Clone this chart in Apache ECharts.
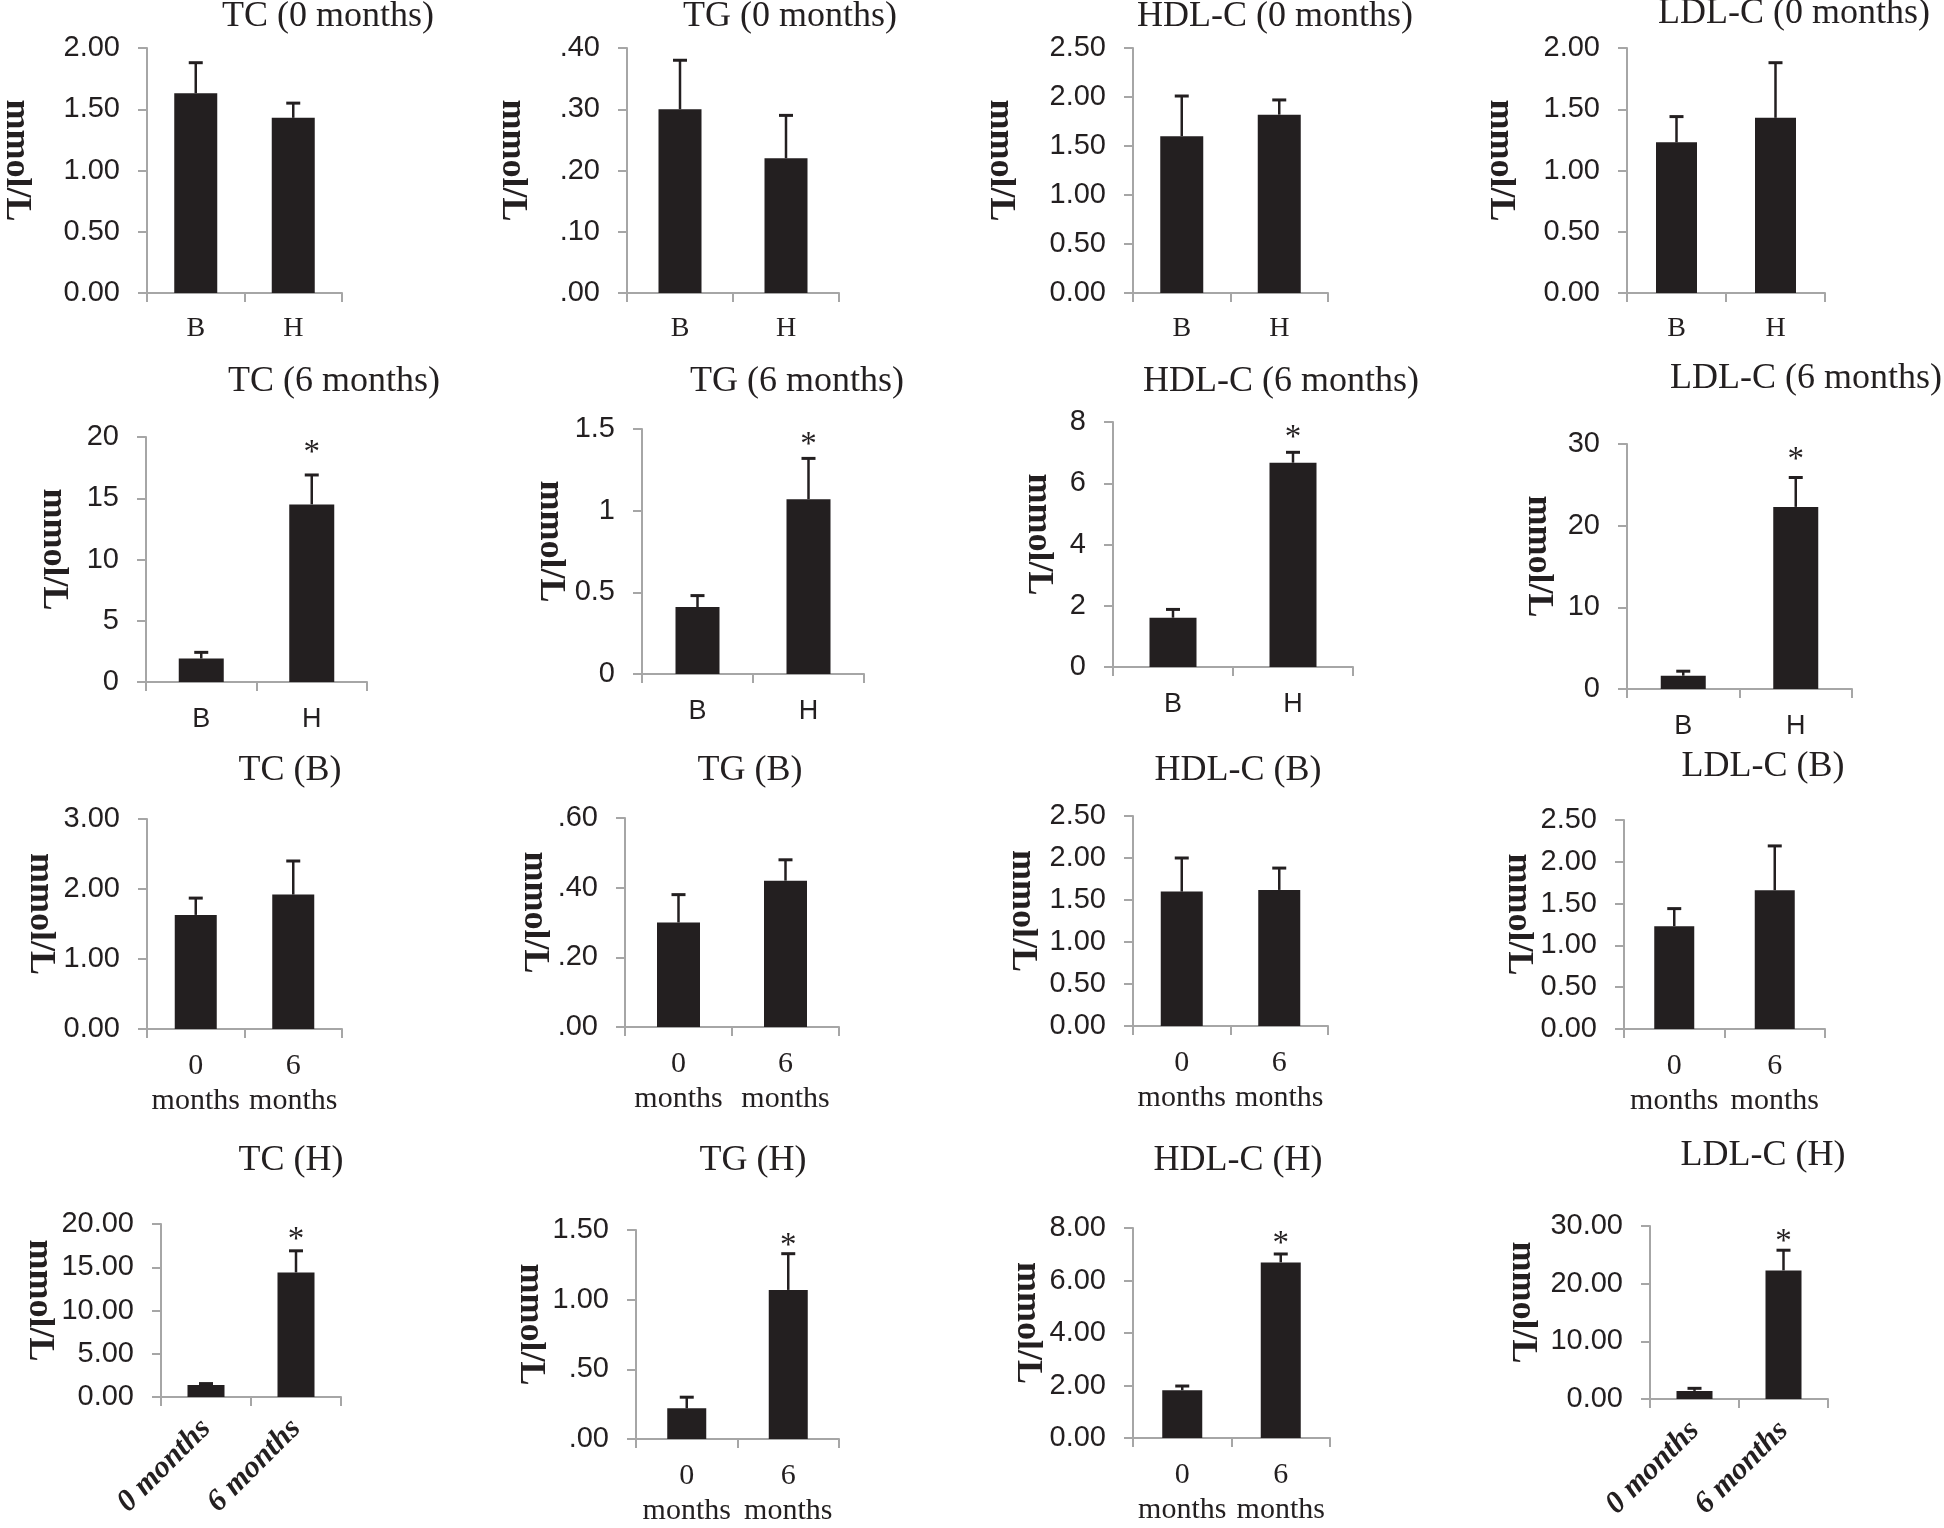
<!DOCTYPE html>
<html lang="en">
<head>
<meta charset="UTF-8">
<title>Serum lipids</title>
<style>
  html, body { margin: 0; background: #fff; }
  #main { width: 1944px; height: 1528px; }
</style>
</head>
<body>
<div id="main"></div>
<script src="https://cdn.jsdelivr.net/npm/echarts@6/dist/echarts.min.js"></script>
<script>
  // categories
  const groups = ['B', 'H']
  const months = ['0\nmonths', '6\nmonths']
  const monthsFlat = ['0 months', '6 months']

  // mean and mean + SD (top of the error bar), mmol/L
  const tc0Mean = [1.63, 1.43], tc0Top = [1.88, 1.55]
  const tg0Mean = [0.30, 0.22], tg0Top = [0.38, 0.29]
  const hdl0Mean = [1.60, 1.82], hdl0Top = [2.01, 1.97]
  const ldl0Mean = [1.23, 1.43], ldl0Top = [1.44, 1.88]

  const tc6Mean = [1.92, 14.5], tc6Top = [2.42, 16.9]
  const tg6Mean = [0.41, 1.07], tg6Top = [0.48, 1.32]
  const hdl6Mean = [1.61, 6.67], hdl6Top = [1.88, 7.01]
  const ldl6Mean = [1.63, 22.3], ldl6Top = [2.18, 25.9]

  const tcBMean = [1.63, 1.92], tcBTop = [1.87, 2.40]
  const tgBMean = [0.30, 0.42], tgBTop = [0.38, 0.48]
  const hdlBMean = [1.60, 1.62], hdlBTop = [2.00, 1.88]
  const ldlBMean = [1.23, 1.66], ldlBTop = [1.44, 2.19]

  const tcHMean = [1.40, 14.4], tcHTop = [1.55, 16.9]
  const tgHMean = [0.22, 1.07], tgHTop = [0.30, 1.33]
  const hdlHMean = [1.82, 6.69], hdlHTop = [1.98, 7.01]
  const ldlHMean = [1.40, 22.3], ldlHTop = [1.85, 25.8]

  // significance marks (*)
  const sigNone = [false, false]
  const sigSecond = [false, true]

  const titles = [
    'TC (0 months)', 'TG (0 months)', 'HDL-C (0 months)', 'LDL-C (0 months)',
    'TC (6 months)', 'TG (6 months)', 'HDL-C (6 months)', 'LDL-C (6 months)',
    'TC (B)', 'TG (B)', 'HDL-C (B)', 'LDL-C (B)',
    'TC (H)', 'TG (H)', 'HDL-C (H)', 'LDL-C (H)'
  ]
  const axisMax = [2, 0.4, 2.5, 2, 20, 1.5, 8, 30, 3, 0.6, 2.5, 2.5, 20, 1.5, 8, 30]
  const axisStep = [0.5, 0.1, 0.5, 0.5, 5, 0.5, 2, 10, 1, 0.2, 0.5, 0.5, 5, 0.5, 2, 10]

  const means = [tc0Mean, tg0Mean, hdl0Mean, ldl0Mean, tc6Mean, tg6Mean, hdl6Mean, ldl6Mean,
    tcBMean, tgBMean, hdlBMean, ldlBMean, tcHMean, tgHMean, hdlHMean, ldlHMean]
  const tops = [tc0Top, tg0Top, hdl0Top, ldl0Top, tc6Top, tg6Top, hdl6Top, ldl6Top,
    tcBTop, tgBTop, hdlBTop, ldlBTop, tcHTop, tgHTop, hdlHTop, ldlHTop]

  const ink = '#231f20'
  const axisGrey = '#a6a6a6'
  const serif = '"Liberation Serif", "Times New Roman", serif'
  const sans = '"Liberation Sans", Arial, sans-serif'

  const fix2 = v => v.toFixed(2)
  const dot2 = v => v.toFixed(2).replace(/^0\./, '.')
  const plain = v => String(+v.toFixed(2))

  // layout: [axis x, axis end x, top tick y, zero y, name gap, bar width]
  const layout = [
    [147, 342, 48, 293, 113, 43], [627, 839, 48, 293, 97, 43], [1133, 1328, 48, 293, 115, 43], [1627, 1825, 48, 293, 109, 41],
    [146, 367, 437, 682, 75, 45], [642, 864, 429, 674, 74, 44], [1113, 1353, 422, 667, 57, 47], [1627, 1852, 444, 689, 71, 45],
    [147, 342, 819, 1029, 89, 42], [625, 839, 818, 1027, 73, 43], [1133, 1328, 816, 1026, 93, 42], [1624, 1825, 820, 1029, 84, 40],
    [161, 341, 1224, 1397, 96, 37], [636, 839, 1230, 1439, 84, 39], [1133, 1330, 1228, 1438, 80, 40], [1650, 1828, 1226, 1399, 110, 36]
  ]
  const titlePos = [
    [328, 18], [790, 18], [1275, 18], [1794, 15],
    [334, 383], [797, 383], [1281, 383], [1806, 380],
    [290, 772], [750, 772], [1238, 772], [1763, 768],
    [291, 1162], [753, 1162], [1238, 1162], [1763, 1157]
  ]
  const formats = [fix2, dot2, fix2, fix2, plain, plain, plain, plain,
    fix2, dot2, fix2, fix2, fix2, dot2, fix2, fix2]

  function catAxis(i) {
    const base = {
      type: 'category', gridIndex: i,
      axisLine: { lineStyle: { color: axisGrey, width: 2 } },
      axisTick: { show: true, length: 9, lineStyle: { color: axisGrey, width: 2 } },
      axisLabel: { interval: 0, color: ink }
    }
    const row = Math.floor(i / 4)
    if (row === 0) {
      base.data = groups
      Object.assign(base.axisLabel, { fontFamily: serif, fontSize: 28, margin: 22 })
    } else if (row === 1) {
      base.data = groups
      Object.assign(base.axisLabel, { fontFamily: sans, fontSize: 27, margin: 24 })
    } else if (i === 12 || i === 15) {
      base.data = monthsFlat
      Object.assign(base.axisLabel, { fontFamily: serif, fontSize: 31, fontWeight: 'bold', fontStyle: 'italic', rotate: 45, margin: 27 })
    } else {
      base.data = months
      Object.assign(base.axisLabel, { fontFamily: serif, fontSize: 30, lineHeight: 35, margin: 20 })
    }
    return base
  }

  function errSeries(i, sig) {
    const max = axisMax[i]
    return {
      type: 'custom', xAxisIndex: i, yAxisIndex: i, z: 4,
      data: means[i].map((m, k) => [k, m, tops[i][k], sig[k] ? 1 : 0]),
      renderItem: function (params, api) {
        const k = api.value(0)
        const a = api.coord([k, api.value(1)])
        const b = api.coord([k, api.value(2)])
        const children = [
          { type: 'line', shape: { x1: a[0], y1: a[1], x2: b[0], y2: b[1] }, style: { stroke: ink, lineWidth: 2.5 } },
          { type: 'line', shape: { x1: b[0] - 7, y1: b[1], x2: b[0] + 7, y2: b[1] }, style: { stroke: ink, lineWidth: 3 } }
        ]
        if (api.value(3)) {
          const s = api.coord([k, max])
          children.push({
            type: 'text',
            style: { text: '*', x: s[0], y: s[1] + 16, align: 'center', verticalAlign: 'middle', font: '33px ' + serif, fill: ink }
          })
        }
        return { type: 'group', children }
      }
    }
  }

  const option = { animation: false, backgroundColor: '#fff', title: [], grid: [], xAxis: [], yAxis: [], series: [] }

  titles.forEach((t, i) => {
    const L = layout[i]
    option.title.push({
      text: t, left: titlePos[i][0], top: titlePos[i][1] - 19, textAlign: 'center', padding: 0,
      textStyle: { fontFamily: serif, fontSize: 36, fontWeight: 'normal', color: ink }
    })
    option.grid.push({ left: L[0], right: 1944 - L[1], top: L[2], bottom: 1528 - L[3], outerBoundsMode: 'none' })
    option.xAxis.push(catAxis(i))
    option.yAxis.push({
      type: 'value', gridIndex: i, min: 0, max: axisMax[i], interval: axisStep[i],
      name: 'mmol/L', nameLocation: 'middle', nameRotate: -90, nameGap: L[4],
      nameTextStyle: { fontFamily: serif, fontSize: 36, fontWeight: 'bold', color: ink, padding: [0, 20, 0, 0] },
      axisLine: { show: true, lineStyle: { color: axisGrey, width: 2 } },
      axisTick: { show: true, length: 9, lineStyle: { color: axisGrey, width: 2 } },
      splitLine: { show: false },
      axisLabel: { formatter: formats[i], fontFamily: sans, fontSize: 29, color: ink, margin: 27 }
    })
    option.series.push({
      type: 'bar', xAxisIndex: i, yAxisIndex: i, barWidth: L[5],
      itemStyle: { color: ink }, data: means[i]
    })
    const sig = (i >= 4 && i < 8) || i >= 12 ? sigSecond : sigNone
    option.series.push(errSeries(i, sig))
  })

  const myChart = echarts.init(document.getElementById('main'))
  myChart.setOption(option)
</script>
</body>
</html>
